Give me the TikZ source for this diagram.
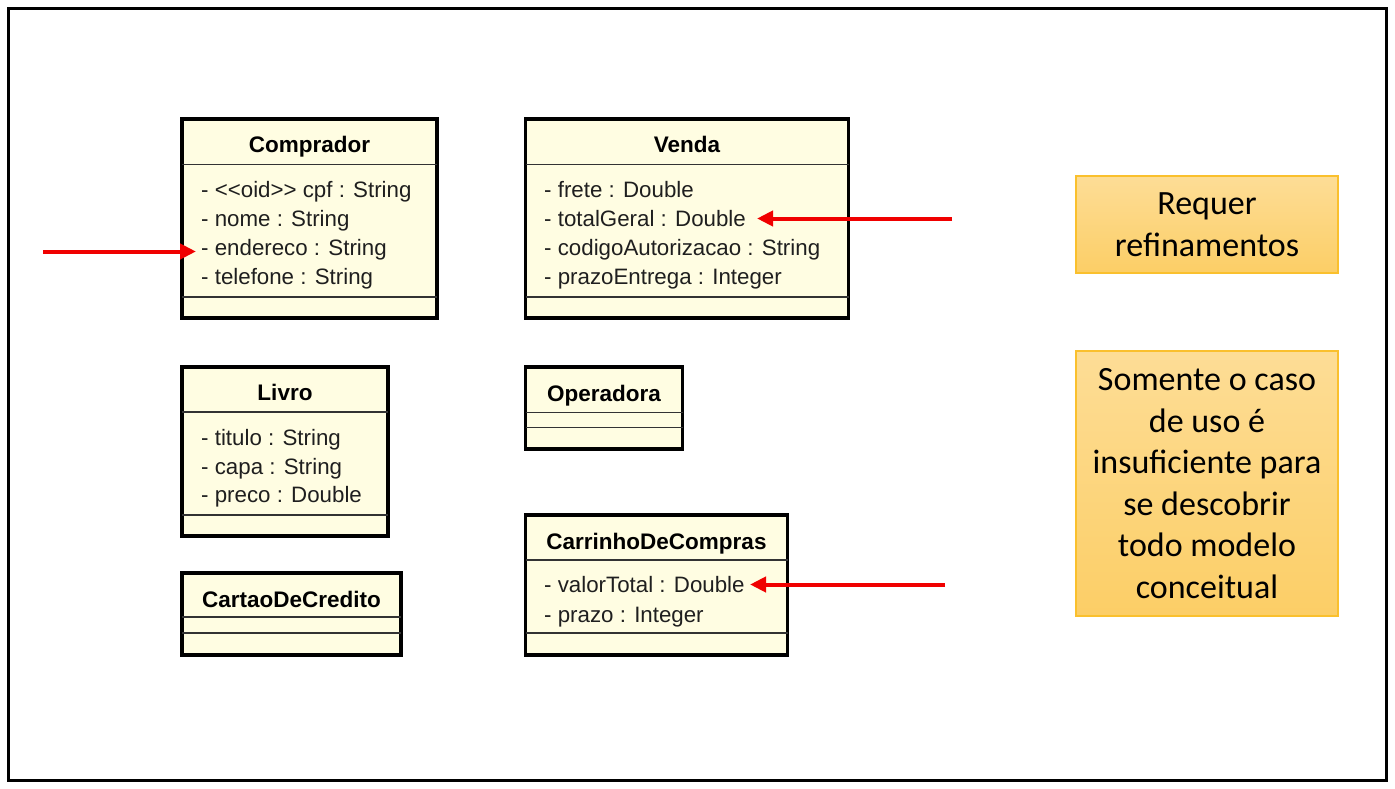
\documentclass[tikz,border=0pt]{standalone}
\usepackage{fontspec}
\setmainfont{Liberation Sans}[Ligatures=TeXOff]
\newfontfamily\calib{Carlito}
\usetikzlibrary{arrows.meta}
\definecolor{umlfill}{RGB}{255,253,226}
\definecolor{notetop}{RGB}{253,221,150}
\definecolor{notebot}{RGB}{252,206,102}
\definecolor{notebd}{RGB}{250,192,45}
\definecolor{arrred}{RGB}{240,0,0}
\begin{document}
\begin{tikzpicture}[x=1pt,y=-1pt,
  umlbox/.style={draw=black, line width=3.5pt, fill=umlfill, anchor=north west, inner sep=0pt, outer sep=0pt},
  sepline/.style={line width=1.5pt, black!80},
  attr/.style={anchor=base west, inner sep=0pt, font=\fontsize{22.3}{29}\selectfont, text=black!88},
  cname/.style={anchor=base, inner sep=0pt, font=\fontsize{22.5}{29}\selectfont\bfseries},
  notebox/.style={draw=notebd, line width=1.2pt, top color=notetop, bottom color=notebot, inner sep=0pt,
    font=\calib\fontsize{34}{41.5}\selectfont, align=center, minimum width=262pt},
  redarr/.style={draw=arrred, line width=4pt, -{Triangle[length=16pt,width=15pt]}}
]
% canvas and frame
\fill[white] (0,0) rectangle (1395,789);
\draw[line width=3.5pt] (8.5,8.5) rectangle (1386.5,780.5);

% Comprador
\node[umlbox, minimum width=255pt, minimum height=199pt] (comprador) at (182,119) {};
\draw[sepline] (182,164.5) -- (437,164.5);
\draw[sepline] (182,297) -- (437,297);
\node[cname] (compradorN) at (309.5,153) {Comprador};
\node[attr] (c1) at (201,197) {- <<oid>> cpf : String};
\node[attr] (c2) at (201,226) {- nome : String};
\node[attr] (c3) at (201,255) {- endereco : String};
\node[attr] (c4) at (201,284) {- telefone : String};

% Venda
\node[umlbox, minimum width=323pt, minimum height=199pt] (venda) at (525.5,119) {};
\draw[sepline] (525.5,164.5) -- (848.5,164.5);
\draw[sepline] (525.5,297) -- (848.5,297);
\node[cname] (vendaN) at (687,153) {Venda};
\node[attr] (v1) at (544,197) {- frete : Double};
\node[attr] (v2) at (544,226) {- totalGeral : Double};
\node[attr] (v3) at (544,255) {- codigoAutorizacao : String};
\node[attr] (v4) at (544,284) {- prazoEntrega : Integer};

% Livro
\node[umlbox, minimum width=206pt, minimum height=169pt] (livro) at (182,367) {};
\draw[sepline] (182,412) -- (388,412);
\draw[sepline] (182,515) -- (388,515);
\node[cname] (livroN) at (285,400) {Livro};
\node[attr] (l1) at (201,445) {- titulo : String};
\node[attr] (l2) at (201,474) {- capa : String};
\node[attr] (l3) at (201,502) {- preco : Double};

% CartaoDeCredito
\node[umlbox, minimum width=219pt, minimum height=82pt] (cartao) at (182,573) {};
\draw[sepline] (182,617) -- (401,617);
\draw[sepline] (182,633) -- (401,633);
\node[cname] (cartaoN) at (291.5,607) {CartaoDeCredito};

% Operadora
\node[umlbox, minimum width=157pt, minimum height=82pt] (operadora) at (525.5,367) {};
\draw[sepline] (525.5,412.5) -- (682.5,412.5);
\draw[sepline] (525.5,427.5) -- (682.5,427.5);
\node[cname] (operadoraN) at (604,401) {Operadora};

% CarrinhoDeCompras
\node[umlbox, minimum width=262pt, minimum height=140pt] (carrinho) at (525.5,515) {};
\draw[sepline] (525.5,560) -- (787.5,560);
\draw[sepline] (525.5,633) -- (787.5,633);
\node[cname] (carrinhoN) at (656.5,549) {CarrinhoDeCompras};
\node[attr] (k1) at (544,592) {- valorTotal : Double};
\node[attr] (k2) at (544,622) {- prazo : Integer};

% notes
\node[notebox, minimum height=97pt] (note1) at (1207,224.5) {Requer\\refinamentos};
\node[notebox, minimum height=265pt] (note2) at (1207,483.5) {Somente o caso\\de uso é\\insuficiente para\\se descobrir\\todo modelo\\conceitual};

% red arrows
\coordinate (a1s) at (43,251.5);
\coordinate (a1e) at (196,251.5);
\coordinate (a2s) at (952,218.5);
\coordinate (a2e) at (757,218.5);
\coordinate (a3s) at (945,584.5);
\coordinate (a3e) at (750,584.5);
\draw[redarr] (a1s) -- (a1e);
\draw[redarr] (a2s) -- (a2e);
\draw[redarr] (a3s) -- (a3e);
\end{tikzpicture}
\end{document}
